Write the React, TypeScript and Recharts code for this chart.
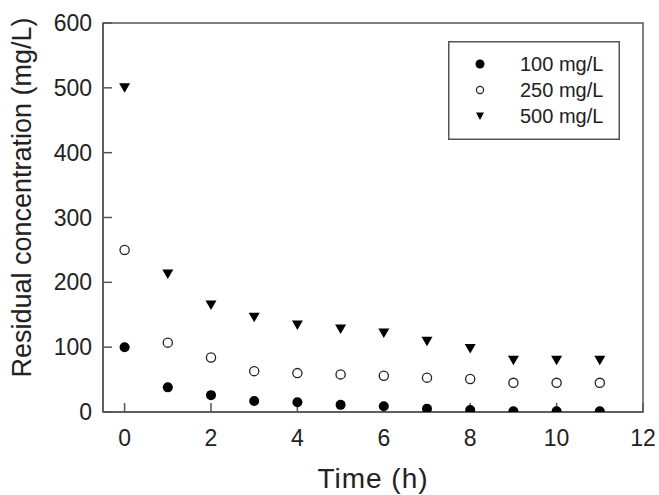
import { ScatterChart, Scatter, XAxis, YAxis, ReferenceArea, Legend } from "recharts";

// Residual concentration, one value per hour
const hours = [0, 1, 2, 3, 4, 5, 6, 7, 8, 9, 10, 11];
const conc100 = [100, 38, 26, 17, 15, 11, 9, 5, 3, 1, 1, 1];
const conc250 = [250, 107, 84, 63, 60, 58, 56, 53, 51, 45, 45, 45];
const conc500 = [500, 213, 165, 146, 134, 128, 122, 109, 98, 80, 80, 80];

const xTicks = [0, 2, 4, 6, 8, 10, 12];
const yTicks = [0, 100, 200, 300, 400, 500, 600];
const seriesNames = ["100 mg/L", "250 mg/L", "500 mg/L"];

const FONT = "'Liberation Sans', Arial, Helvetica, sans-serif";
const INK = "#222";
const FRAME = "#555";

const toPoints = (vals: number[]) => hours.map((t, i) => ({ t, c: vals[i] }));

type ShapeProps = { cx?: number; cy?: number };

const FilledDot = ({ cx = 0, cy = 0 }: ShapeProps) => <circle cx={cx} cy={cy} r={5} fill="#000" />;
const OpenDot = ({ cx = 0, cy = 0 }: ShapeProps) => (
  <circle cx={cx} cy={cy} r={4.6} fill="#fff" stroke="#222" strokeWidth={1.3} />
);
const DownTriangle = ({ cx = 0, cy = 0 }: ShapeProps) => (
  <polygon points={`${cx - 5.5},${cy - 4.5} ${cx + 5.5},${cy - 4.5} ${cx},${cy + 5}`} fill="#000" />
);

/** Boxed legend, like the original figure. */
function BoxLegend() {
  const rows = [23, 49, 75];
  return (
    <svg width={172} height={99} style={{ display: "block" }}>
      <rect x={0.75} y={0.75} width={170.5} height={97.5} fill="#fff" stroke={FRAME} strokeWidth={1.5} />
      <circle cx={32} cy={rows[0]} r={4.5} fill="#000" />
      <circle cx={32} cy={rows[1]} r={3.6} fill="#fff" stroke="#222" strokeWidth={1.2} />
      <polygon points={`28,${rows[2] - 3.5} 36,${rows[2] - 3.5} 32,${rows[2] + 4}`} fill="#000" />
      {seriesNames.map((n, i) => (
        <text
          key={n}
          x={72}
          y={rows[i]}
          dominantBaseline="central"
          fontFamily={FONT}
          fontSize={20}
          fill={INK}
        >
          {n}
        </text>
      ))}
    </svg>
  );
}

function YTitle(props: any) {
  const vb = props.viewBox || { x: 0, y: 0, width: 0, height: 0 };
  const x = vb.x + 31;
  const y = vb.y + vb.height / 2 - 20;
  return (
    <text
      x={x}
      y={y}
      transform={`rotate(-90, ${x}, ${y})`}
      textAnchor="middle"
      fontFamily={FONT}
      fontSize={27}
      fill={INK}
    >
      Residual concentration (mg/L)
    </text>
  );
}

export default function App() {
  const tickStyle = { fontFamily: FONT, fontSize: 23, fill: INK };
  return (
    <div style={{ position: "absolute", left: 0, top: 0, background: "#fff" }}>
      <ScatterChart width={659} height={495} margin={{ top: 23, right: 16, bottom: 0, left: 0 }}>
        <XAxis
          type="number"
          dataKey="t"
          domain={[-0.5, 12]}
          ticks={xTicks}
          allowDataOverflow
          height={83}
          tick={tickStyle}
          tickSize={-9}
          tickMargin={27}
          stroke={FRAME}
          strokeWidth={1.5}
          label={{
            value: "Time (h)",
            position: "insideBottom",
            offset: 7,
            style: { fontFamily: FONT, fontSize: 28, fill: INK, letterSpacing: 1 },
          }}
        />
        <YAxis
          type="number"
          dataKey="c"
          domain={[0, 600]}
          ticks={yTicks}
          allowDataOverflow
          width={103}
          tick={tickStyle}
          tickSize={-9}
          tickMargin={20}
          stroke={FRAME}
          strokeWidth={1.5}
          label={{ content: YTitle }}
        />
        <ReferenceArea
          x1={-0.5}
          x2={12}
          y1={0}
          y2={600}
          fill="none"
          fillOpacity={0}
          stroke={FRAME}
          strokeWidth={1.5}
          strokeOpacity={1}
        />
        <Legend
          layout="vertical"
          align="center"
          verticalAlign="middle"
          content={() => <BoxLegend />}
          wrapperStyle={{ position: "absolute", left: 448, top: 41, width: 172, height: 99 }}
        />
        <Scatter name={seriesNames[0]} data={toPoints(conc100)} shape={FilledDot} isAnimationActive={false} />
        <Scatter name={seriesNames[1]} data={toPoints(conc250)} shape={OpenDot} isAnimationActive={false} />
        <Scatter name={seriesNames[2]} data={toPoints(conc500)} shape={DownTriangle} isAnimationActive={false} />
      </ScatterChart>
    </div>
  );
}
